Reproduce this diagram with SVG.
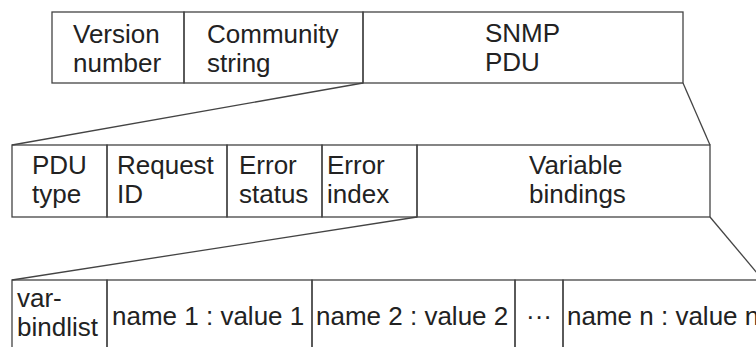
<svg xmlns="http://www.w3.org/2000/svg" width="756" height="347" viewBox="0 0 756 347">
<style>
.b{fill:none;stroke:#444;stroke-width:1.3}
.c{stroke:#444;stroke-width:1.3;fill:none}
text{font-family:"Liberation Sans",Arial,sans-serif;font-size:26px;fill:#222}
.m{text-anchor:middle}
</style>
<rect width="756" height="347" fill="#fff"/>
<g id="connectors">
<line class="c" x1="363" y1="83" x2="12" y2="145"/>
<line class="c" x1="683" y1="83" x2="710" y2="145"/>
<line class="c" x1="417" y1="217" x2="12" y2="280"/>
<line class="c" x1="710" y1="217" x2="763" y2="280"/>
</g>
<g id="row1">
<g id="version"><rect class="b" x="52" y="12" width="132" height="71"/><text x="73" y="43">Version</text><text x="73" y="72">number</text></g>
<g id="community"><rect class="b" x="184" y="12" width="179" height="71"/><text x="207" y="43">Community</text><text x="207" y="72">string</text></g>
<g id="snmppdu"><rect class="b" x="363" y="12" width="320" height="71"/><text x="485" y="42">SNMP</text><text x="485" y="71">PDU</text></g>
</g>
<g id="row2">
<g id="pdutype"><rect class="b" x="12" y="145" width="95" height="72"/><text x="32" y="174">PDU</text><text x="32" y="203">type</text></g>
<g id="requestid"><rect class="b" x="107" y="145" width="120" height="72"/><text x="117" y="174">Request</text><text x="117" y="203">ID</text></g>
<g id="errorstatus"><rect class="b" x="227" y="145" width="95" height="72"/><text x="239" y="174">Error</text><text x="239" y="203">status</text></g>
<g id="errorindex"><rect class="b" x="322" y="145" width="95" height="72"/><text x="327" y="174">Error</text><text x="327" y="203">index</text></g>
<g id="varbindings"><rect class="b" x="417" y="145" width="293" height="72"/><text x="529" y="174">Variable</text><text x="529" y="203">bindings</text></g>
</g>
<g id="row3">
<g id="varbindlist"><rect class="b" x="12" y="280" width="95" height="90"/><text x="17" y="307">var-</text><text x="17" y="336">bindlist</text></g>
<g id="nv1"><rect class="b" x="107" y="280" width="205" height="90"/><text x="112" y="325">name 1 : value 1</text></g>
<g id="nv2"><rect class="b" x="312" y="280" width="203" height="90"/><text x="316" y="325">name 2 : value 2</text></g>
<g id="dots"><rect class="b" x="515" y="280" width="48" height="90"/><text class="m" x="539" y="325">···</text></g>
<g id="nvn"><rect class="b" x="563" y="280" width="200" height="90"/><text x="567" y="325">name n : value n</text></g>
</g>
</svg>
